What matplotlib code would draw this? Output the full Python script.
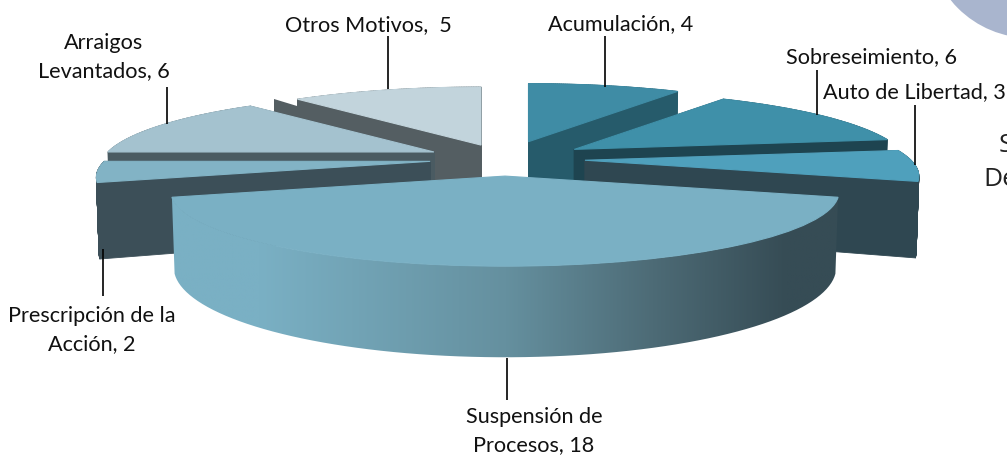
import numpy as np
import matplotlib
matplotlib.use('Agg')
import matplotlib.pyplot as plt
from matplotlib.collections import PolyCollection
from matplotlib.colors import LinearSegmentedColormap
from matplotlib.patches import Circle, Polygon
from matplotlib.transforms import Transform

plt.rcParams['font.family'] = ['Lato', 'DejaVu Sans']

# data, clockwise from 12 o'clock
names = ['Acumulación', 'Sobreseimiento', 'Auto de Libertad', 'Suspensión de Procesos',
         'Prescripción de la Acción', 'Arraigos Levantados', 'Otros Motivos']
values = [4, 6, 3, 18, 2, 6, 5]
labels = ['Acumulación, 4', 'Sobreseimiento, 6', 'Auto de Libertad, 3',
          'Suspensión de\nProcesos, 18', 'Prescripción de la\nAcción, 2',
          'Arraigos\nLevantados, 6', 'Otros Motivos,  5']

# style
top_colors = ['#3F8CA5', '#3F90A9', '#4FA0BC', '#7AB0C4', '#82B3C5', '#A4C2CF', '#C2D4DC']
wall_colors = ['#265B6B', '#1E4450', '#2F4751', None, '#3C4F58', '#4A5B62', '#545E62']
explode = [0.27, 0.26, 0.245, 0.23, 0.23, 0.245, 0.22]
layer = [1, 3, 5, 6, 4, 2, 0]  # painter order, back to front

# layout in pixels
CX, CY = 505.0, 159.0   # pie centre
A, B = 326.0, 70.6      # ellipse half axes
K = 0.216               # perspective
DEPTH = 72.0
TAPER = 0.992
label_pos = [(621, 24), (872, 57), (914, 92), (534, 431), (92, 330), (104, 57), (368, 25)]
leaders = [(605, 36, 87), (817, 70, 115), (915, 105, 165), (507, 358, 400),
           (103, 249, 296), (167, 87, 124), (388, 36, 89)]


def project(u, v):
    d = 1 + K*v
    return A*u/d, -B*v/d


class SliceProj(Transform):
    input_dims = 2
    output_dims = 2

    def __init__(self, ox, oy):
        super().__init__()
        self.ox, self.oy = ox, oy

    def transform_non_affine(self, values):
        x, y = project(values[:, 0], values[:, 1])
        return np.column_stack([x + self.ox, y + self.oy])


fig = plt.figure(figsize=(10.07, 4.57), dpi=100)
ax = fig.add_axes([0, 0, 1, 1])
wedges, _ = ax.pie(values, startangle=90, counterclock=False, colors=top_colors)

gradient = LinearSegmentedColormap.from_list('side', [(0, '#7AB0C4'), (0.13, '#7AB0C4'),
                                                      (0.5, '#65909F'), (0.72, '#4D6B76'),
                                                      (0.92, '#364C55'), (1, '#364C55')])

for i, w in enumerate(wedges):
    mid = np.radians((w.theta1 + w.theta2)/2)
    dx, dy = project(explode[i]*np.cos(mid), explode[i]*np.sin(mid))
    ox, oy = CX + dx, CY + dy
    w.set_transform(SliceProj(ox, oy) + ax.transData)
    w.set_zorder(2*layer[i] + 3)
    w.set_edgecolor(top_colors[i])
    w.set_linewidth(0.8)

    t = np.radians(np.linspace(w.theta1, w.theta2, 80))
    u = np.r_[0, np.cos(t), 0]
    v = np.r_[0, np.sin(t), 0]
    x, y = project(u, v)
    top = np.column_stack([x + ox, y + oy])
    bot = np.column_stack([x*TAPER + ox, y*TAPER + oy + DEPTH/(1 + K*v)])

    if wall_colors[i] is None:
        # big slice, shaded side
        side = np.vstack([top[1:-1], bot[1:-1][::-1]])
        im = ax.imshow(np.linspace(0, 1, 256)[None, :], cmap=gradient, aspect='auto',
                       extent=(171, 841, 360, 190), zorder=2*layer[i] + 2)
        im.set_clip_path(Polygon(side, transform=ax.transData))
    else:
        quads = [[top[j], top[j+1], bot[j+1], bot[j]] for j in range(len(top) - 1)]
        ax.add_collection(PolyCollection(quads, facecolors=wall_colors[i], edgecolors=wall_colors[i],
                                         linewidths=0.6, zorder=2*layer[i] + 2))

# dark sliver showing behind the Arraigos slice
ax.add_patch(Polygon([(274, 99), (435, 148), (274, 120)], facecolor=wall_colors[6],
                     edgecolor='none', zorder=3.5))

# bits of the slide behind the chart
ax.add_patch(Circle((1030, -64), 102, facecolor='#A9B5CE', edgecolor='none', zorder=1))
ax.text(999, 146, 'S', fontsize=19, color='#222222', family='Open Sans', ha='left', va='center',
        clip_on=True)
ax.text(983, 179, 'De', fontsize=19, color='#222222', family='Open Sans', ha='left', va='center',
        clip_on=True)

for (lx, y0, y1) in leaders:
    ax.plot([lx, lx], [y0, y1], color='black', lw=1.2, zorder=30, solid_capstyle='butt')
for txt, (tx, ty) in zip(labels, label_pos):
    ax.text(tx, ty, txt, fontsize=15.6, color='#111111', ha='center', va='center',
            linespacing=1.5, zorder=31)

ax.set_aspect('auto')
ax.set_xlim(0, 1007)
ax.set_ylim(457, 0)
ax.axis('off')
fig.savefig('out.png', dpi=100)
